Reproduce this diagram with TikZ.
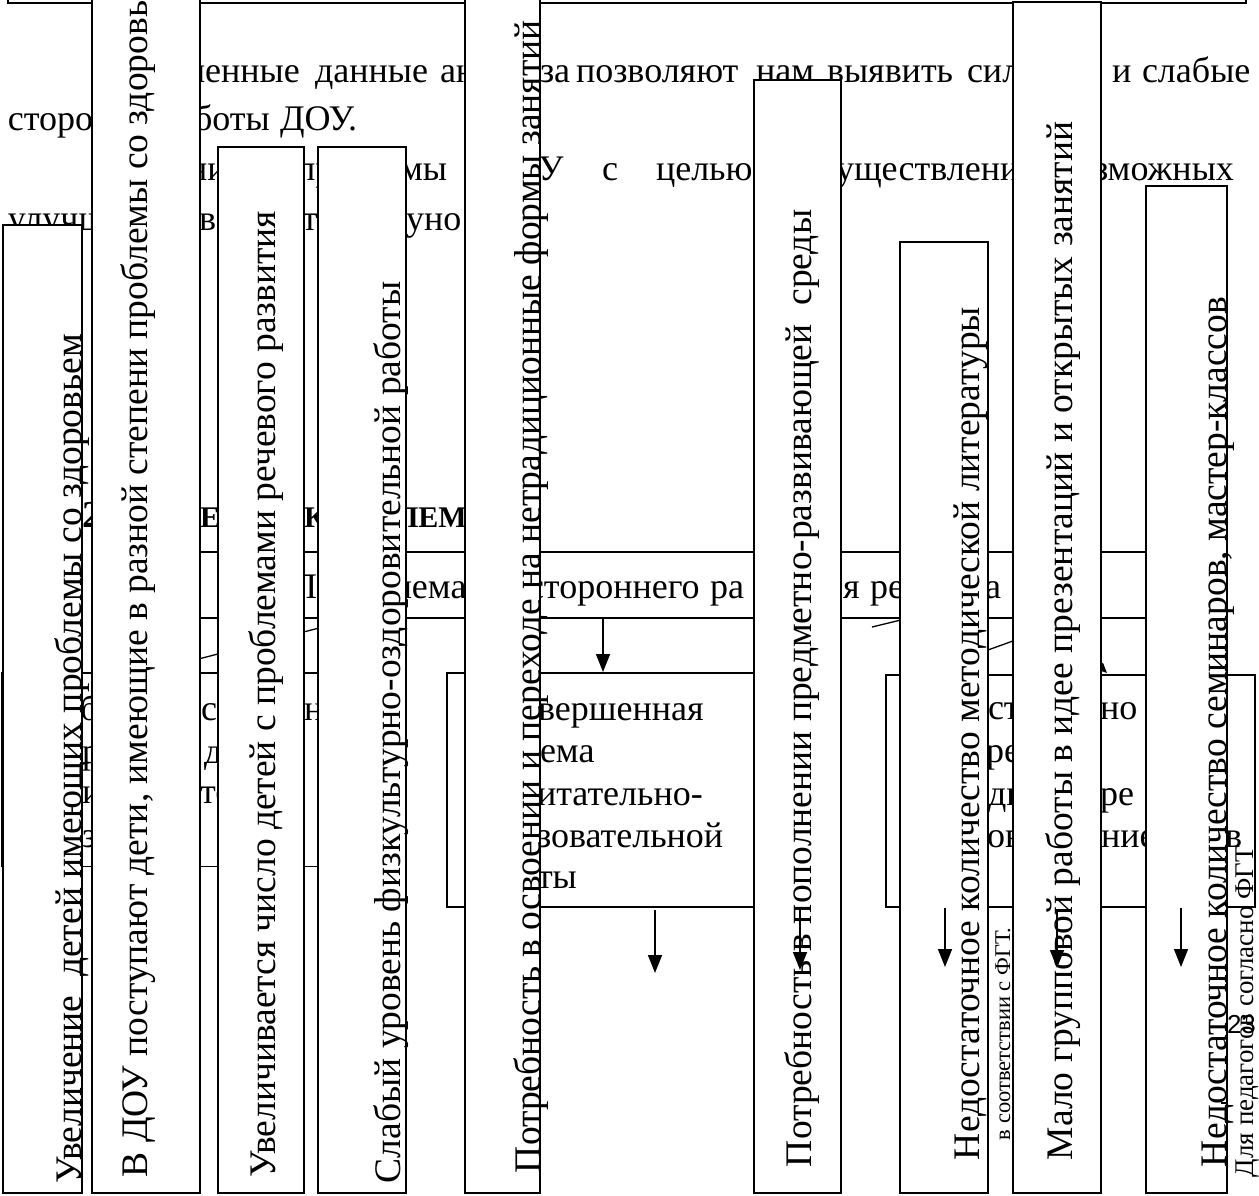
\documentclass[tikz,border=0pt]{standalone}
\usepackage{fontspec}
\setmainfont{Liberation Serif}
\setsansfont{Liberation Sans}
\usetikzlibrary{arrows.meta}

\begin{document}
\begin{tikzpicture}[x=1pt,y=-1pt,
  every node/.style={inner sep=0pt,outer sep=0pt},
  frame/.style={draw,line width=1.5pt},
  vbox/.style={draw,fill=white,line width=1.5pt},
  txt/.style={anchor=base west,font=\fontsize{36}{40}\selectfont},
  ttl/.style={anchor=base west,font=\fontsize{30}{34}\selectfont\bfseries},
  vtxt/.style={anchor=base west,rotate=90,font=\fontsize{37.5}{42}\selectfont},
  link/.style={line width=1.3pt},
  arr/.style={line width=1.5pt,-{Triangle[width=14pt,length=18pt]}}]
  \useasboundingbox (0,0) rectangle (1259,1195);

  % page frame above
  \draw[frame] (8,-30) rectangle (1246,3);

  % text lines under the columns
  \node[txt] (p1a) at (187,82) {ченные};
  \node[txt] (p1b) at (315,82) {данные};
  \node[txt] (p1c) at (440,82) {ан};
  \node[txt] (p1d) at (540,82) {за};
  \node[txt] (p1e) at (576,82) {позволяют};
  \node[txt] (p1f) at (756,82) {нам};
  \node[txt] (p1g) at (827,82) {выявить};
  \node[txt] (p1h) at (967,82) {сил};
  \node[txt] (p1i) at (1112,82) {и};
  \node[txt] (p1j) at (1142,82) {слабые};
  \node[txt] (p2a) at (8,130) {сторо};
  \node[txt] (p2b) at (194,130) {боты};
  \node[txt] (p2c) at (280,130) {ДОУ.};
  \node[txt] (p3a) at (188,180) {ни};
  \node[txt] (p3b) at (296,180) {пр};
  \node[txt] (p3c) at (400,180) {мы};
  \node[txt] (p3d) at (538,180) {У};
  \node[txt] (p3e) at (602,180) {с};
  \node[txt] (p3f) at (656,180) {целью};
  \node[txt] (p3g) at (836,180) {уществлени};
  \node[txt] (p3h) at (1094,180) {зможных};
  \node[txt] (p4a) at (8,230) {улучш};
  \node[txt] (p4b) at (199,230) {в};
  \node[txt] (p4c) at (302,230) {т};
  \node[txt] (p4d) at (406,230) {уно};

  % heading
  \node[ttl,font=\fontsize{38}{40}\selectfont\bfseries] (t1) at (82,527) {2};
  \node[ttl] (t2) at (200,527) {ЕН};
  \node[ttl] (t3) at (304,527) {К};
  \node[ttl] (t4) at (396,527) {ЛЕМ};

  % row box
  \draw[frame] (150,552) rectangle (1190,618);
  \node[txt] (r1) at (291,598) {П};
  \node[txt] (r2) at (394,598) {лема};
  \node[txt] (r3) at (528,598) {стороннего};
  \node[txt] (r4) at (710,598) {ра};
  \node[txt] (r5) at (843,598) {я};
  \node[txt] (r6) at (870,598) {ре};
  \node[txt] (r7) at (985,598) {а};

  % lower boxes
  \draw[line width=1pt] (390,673) -| (1,866) -- (390,866);
  \draw[frame] (1,673) -- (390,673) -- (390,866);
  \draw[frame] (447,673) rectangle (800,907);
  \draw[frame] (886,675) rectangle (1255,907);
  \node[txt] (a1) at (80,720) {бо};
  \node[txt] (a2) at (201,720) {с};
  \node[txt] (a3) at (304,720) {н};
  \node[txt] (a4) at (82,763) {р};
  \node[txt] (a5) at (204,763) {д};
  \node[txt] (a6) at (82,803) {и};
  \node[txt] (a7) at (200,803) {то};
  \node[txt] (a8) at (82,847) {з};
  \node[txt] (m1) at (538,720) {вершенная};
  \node[txt] (m2) at (540,762) {ема};
  \node[txt] (m3) at (537,805) {итательно-};
  \node[txt] (m4) at (537,847) {зовательной};
  \node[txt] (m5) at (537,888) {ты};
  \node[txt] (n1) at (988,719) {ст};
  \node[txt] (n2) at (1100,719) {но};
  \node[txt] (n3) at (986,762) {ре};
  \node[txt] (n4) at (988,805) {ди};
  \node[txt] (n5) at (1100,805) {ре};
  \node[txt] (n6) at (987,847) {ов};
  \node[txt] (n7) at (1101,847) {ние};
  \node[txt] (n8) at (1225,847) {в};

  % links from the row box
  \coordinate (k1a) at (358,618);
  \coordinate (k1b) at (144,673);
  \coordinate (k2a) at (905,619);
  \coordinate (k2b) at (872,627);
  \coordinate (k3a) at (1074,619);
  \coordinate (k3b) at (924,673);
  \coordinate (k4a) at (1050,619);
  \coordinate (k4b) at (1107,673);
  \coordinate (k5a) at (603,619);
  \coordinate (k5b) at (603,672);
  \draw[link] (k1a) -- (k1b);
  \draw[link] (k2a) -- (k2b);
  \draw[link] (k3a) -- (k3b);
  \draw[link,-{Triangle[width=9pt,length=10pt]}] (k4a) -- (k4b);
  \draw[arr] (k5a) -- (k5b);

  % columns
  \draw[vbox] (3,225) rectangle (82,1193);
  \node[vtxt] (v1) at (81,1183) {Увеличение\ \ детей имеющих проблемы со здоровьем};
  \draw[vbox] (92,-20) rectangle (200,1193);
  \node[vtxt] (v2) at (147,1177) {В ДОУ поступают дети, имеющие в разной степени проблемы со здоровьем};
  \draw[vbox] (218,147) rectangle (304,1193);
  \node[vtxt] (v3) at (275,1177) {Увеличивается число детей с проблемами речевого развития};
  \draw[vbox] (318,147) rectangle (406,1193);
  \node[vtxt] (v4) at (400,1183) {Слабый уровень физкультурно-оздоровительной работы};
  \draw[vbox] (465,-20) rectangle (540,1193);
  \node[vtxt] (v5) at (540,1173) {Потребность в освоении и переходе на нетрадиционные формы занятий};
  \draw[vbox] (754,80) rectangle (841,1193);
  \node[vtxt] (v6) at (811,1167) {Потребность в пополнении предметно-развивающей\ \ среды};
  \draw[vbox] (900,242) rectangle (988,1193);
  \node[vtxt] (v7) at (979,1160) {Недостаточное количество методической литературы};
  \draw[vbox] (1013,2) rectangle (1101,1193);
  \node[vtxt] (v8) at (1072,1160) {Мало групповой работы в идее презентаций и открытых занятий};
  \draw[vbox] (1146,186) rectangle (1227,1193);
  \node[vtxt] (v9) at (1226,1167) {Недостаточное количество семинаров, мастер-классов};
  \node[vtxt,font=\fontsize{22.5}{24}\selectfont] (s1) at (1010,1140) {в соответствии с ФГТ.};
  \node[vtxt,font=\fontsize{27}{29}\selectfont] (s2) at (1253,1177) {Для педагогов согласно ФГТ};

  % arrows below the boxes
  \coordinate (d1a) at (655,910);
  \coordinate (d1b) at (655,973);
  \coordinate (d2a) at (800,910);
  \coordinate (d2b) at (800,970);
  \coordinate (d3a) at (945,908);
  \coordinate (d3b) at (945,967);
  \coordinate (d4a) at (1057,910);
  \coordinate (d4b) at (1057,968);
  \coordinate (d5a) at (1181,908);
  \coordinate (d5b) at (1181,967);
  \draw[arr] (d1a) -- (d1b);
  \draw[arr] (d2a) -- (d2b);
  \draw[arr] (d3a) -- (d3b);
  \draw[arr] (d4a) -- (d4b);
  \draw[arr] (d5a) -- (d5b);

  \node[anchor=base west,font=\sffamily\fontsize{26}{28}\selectfont] (pg) at (1227,1033) {23};
  \draw[line width=1.2pt] (1221,1103) -- (1228,1103);
\end{tikzpicture}
\end{document}
